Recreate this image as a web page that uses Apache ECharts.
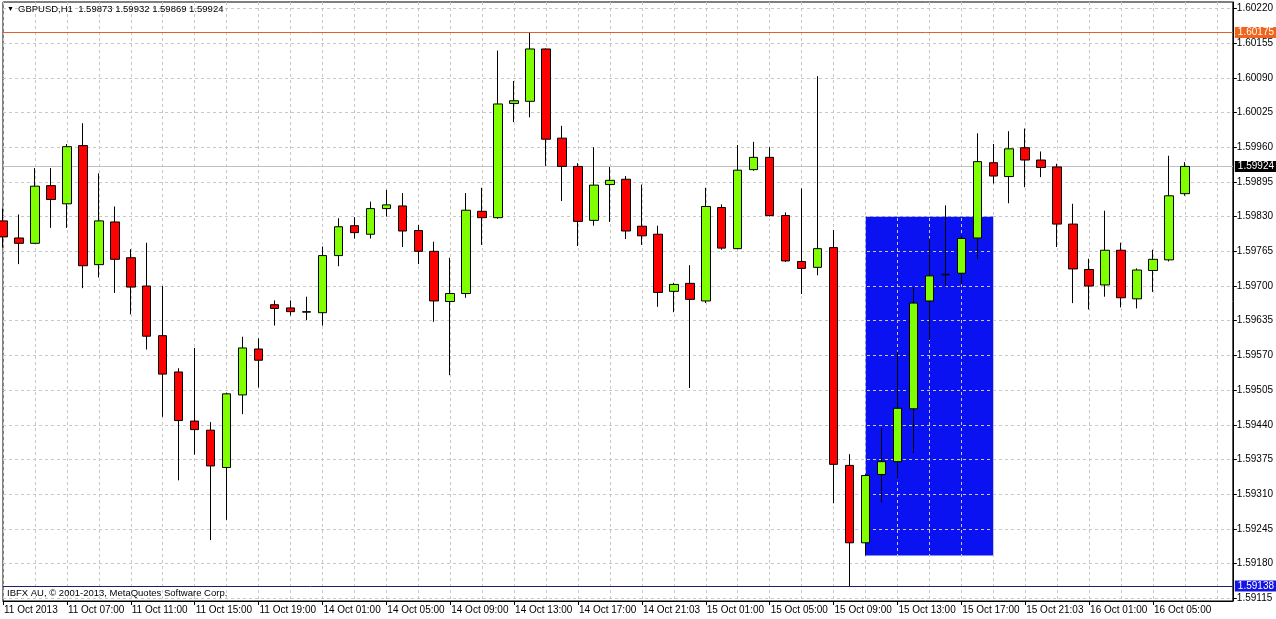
<!DOCTYPE html>
<html>
<head>
<meta charset="utf-8">
<script src="https://cdn.jsdelivr.net/npm/echarts@6/dist/echarts.min.js"></script>
<style>
html,body{margin:0;padding:0;background:#fff;}
#chart{width:1276px;height:619px;}
</style>
</head>
<body>
<div id="chart"></div>
<script>
// ---- data ----
const symbolTitle = 'GBPUSD,H1';
const categories = [
  '11 Oct 03:00','11 Oct 04:00','11 Oct 05:00','11 Oct 06:00','11 Oct 07:00','11 Oct 08:00','11 Oct 09:00','11 Oct 10:00','11 Oct 11:00','11 Oct 12:00',
  '11 Oct 13:00','11 Oct 14:00','11 Oct 15:00','11 Oct 16:00','11 Oct 17:00','11 Oct 18:00','11 Oct 19:00','11 Oct 20:00','11 Oct 21:00','11 Oct 22:00',
  '14 Oct 01:00','14 Oct 02:00','14 Oct 03:00','14 Oct 04:00','14 Oct 05:00','14 Oct 06:00','14 Oct 07:00','14 Oct 08:00','14 Oct 09:00','14 Oct 10:00',
  '14 Oct 11:00','14 Oct 12:00','14 Oct 13:00','14 Oct 14:00','14 Oct 15:00','14 Oct 16:00','14 Oct 17:00','14 Oct 18:00','14 Oct 19:00','14 Oct 20:00',
  '14 Oct 21:00','14 Oct 22:00','14 Oct 23:00',
  '15 Oct 00:00','15 Oct 01:00','15 Oct 02:00','15 Oct 03:00','15 Oct 04:00','15 Oct 05:00','15 Oct 06:00','15 Oct 07:00','15 Oct 08:00','15 Oct 09:00',
  '15 Oct 10:00','15 Oct 11:00','15 Oct 12:00','15 Oct 13:00','15 Oct 14:00','15 Oct 15:00','15 Oct 16:00','15 Oct 17:00','15 Oct 18:00','15 Oct 19:00',
  '15 Oct 20:00','15 Oct 21:00','15 Oct 22:00','15 Oct 23:00',
  '16 Oct 00:00','16 Oct 01:00','16 Oct 02:00','16 Oct 03:00','16 Oct 04:00','16 Oct 05:00','16 Oct 06:00','16 Oct 07:00',
  '16 Oct 08:00','16 Oct 09:00','16 Oct 10:00'
];
const xTickLabels = ['11 Oct 2013','11 Oct 07:00','11 Oct 11:00','11 Oct 15:00','11 Oct 19:00','14 Oct 01:00','14 Oct 05:00','14 Oct 09:00','14 Oct 13:00','14 Oct 17:00','14 Oct 21:03','15 Oct 01:00','15 Oct 05:00','15 Oct 09:00','15 Oct 13:00','15 Oct 17:00','15 Oct 21:03','16 Oct 01:00','16 Oct 05:00'];
const yTicks = [1.59115,1.59180,1.59245,1.59310,1.59375,1.59440,1.59505,1.59570,1.59635,1.59700,1.59765,1.59830,1.59895,1.59960,1.60025,1.60090,1.60155,1.60220];

const opens  = [1.59822,1.59790,1.59780,1.59888,1.59854,1.59963,1.59740,1.59820,1.59753,1.59700,
                1.59607,1.59539,1.59447,1.59430,1.59360,1.59496,1.59582,1.59665,1.59659,1.59651,
                1.59650,1.59757,1.59813,1.59797,1.59845,1.59850,1.59804,1.59765,1.59671,1.59686,
                1.59840,1.59828,1.60042,1.60046,1.60144,1.59977,1.59924,1.59823,1.59890,1.59900,
                1.59812,1.59797,1.59690,1.59705,1.59672,1.59847,1.59770,1.59918,1.59941,1.59832,
                1.59746,1.59735,1.59772,1.59364,1.59219,1.59347,1.59371,1.59470,1.59672,1.59721,
                1.59724,1.59790,1.59931,1.59905,1.59959,1.59936,1.59923,1.59816,1.59731,1.59702,
                1.59767,1.59676,1.59729,1.59749,1.59873];
const highs  = [1.59845,1.59834,1.59921,1.59921,1.59966,1.60005,1.59911,1.59849,1.59769,1.59781,
                1.59700,1.59546,1.59584,1.59445,1.59500,1.59605,1.59602,1.59673,1.59673,1.59680,
                1.59774,1.59827,1.59829,1.59858,1.59880,1.59874,1.59814,1.59783,1.59753,1.59874,
                1.59884,1.60141,1.60084,1.60174,1.60145,1.60000,1.59930,1.59960,1.59923,1.59906,
                1.59890,1.59813,1.59706,1.59739,1.59884,1.59853,1.59964,1.59970,1.59960,1.59838,
                1.59883,1.60093,1.59805,1.59385,1.59348,1.59434,1.59577,1.59697,1.59789,1.59851,
                1.59795,1.59986,1.59966,1.59990,1.59995,1.59952,1.59929,1.59854,1.59751,1.59841,
                1.59781,1.59733,1.59768,1.59944,1.59932];
const lows   = [1.59772,1.59741,1.59779,1.59809,1.59809,1.59696,1.59716,1.59687,1.59647,1.59581,
                1.59455,1.59336,1.59384,1.59224,1.59262,1.59460,1.59510,1.59626,1.59645,1.59636,
                1.59626,1.59737,1.59789,1.59789,1.59830,1.59773,1.59741,1.59633,1.59533,1.59678,
                1.59777,1.59826,1.60007,1.60016,1.59925,1.59859,1.59775,1.59813,1.59820,1.59788,
                1.59777,1.59661,1.59651,1.59509,1.59668,1.59768,1.59769,1.59916,1.59830,1.59745,
                1.59685,1.59720,1.59293,1.59138,1.59195,1.59295,1.59339,1.59387,1.59599,1.59699,
                1.59703,1.59751,1.59892,1.59855,1.59885,1.59904,1.59773,1.59668,1.59656,1.59680,
                1.59660,1.59658,1.59689,1.59746,1.59869];
const closes = [1.59792,1.59780,1.59887,1.59862,1.59961,1.59738,1.59822,1.59750,1.59698,1.59606,
                1.59535,1.59448,1.59431,1.59363,1.59498,1.59584,1.59561,1.59658,1.59652,1.59652,
                1.59757,1.59811,1.59800,1.59845,1.59852,1.59803,1.59765,1.59672,1.59686,1.59842,
                1.59828,1.60041,1.60047,1.60144,1.59975,1.59924,1.59821,1.59889,1.59898,1.59803,
                1.59794,1.59688,1.59703,1.59675,1.59849,1.59771,1.59917,1.59941,1.59832,1.59747,
                1.59733,1.59770,1.59366,1.59219,1.59345,1.59371,1.59471,1.59668,1.59719,1.59722,
                1.59789,1.59933,1.59906,1.59957,1.59936,1.59922,1.59816,1.59732,1.59700,1.59767,
                1.59678,1.59730,1.59750,1.59869,1.59924];

const alertLevel = 1.60175;
const lowLevel = 1.59138;
const zoneStart = '15 Oct 11:00', zoneEnd = '15 Oct 19:00';
const zoneTop = 1.59830, zoneBottom = 1.59195;
const copyright = 'IBFX AU, \u00a9 2001-2013, MetaQuotes Software Corp.';

// ---- chart ----
const FONT = '"Liberation Sans", Arial, sans-serif';
const candles = opens.map((o, i) => [o, closes[i], lows[i], highs[i]]);
const last = opens.length - 1;
const bid = closes[last];
const titleText = symbolTitle + '  ' + [opens[last], highs[last], lows[last], closes[last]].map(v => v.toFixed(5)).join(' ');
const showIdx = (idx) => idx % 4 === 0 && idx / 4 < xTickLabels.length;
const levelLabel = (bg) => ({
  show: true, position: 'end', distance: 2, fontSize: 10, fontFamily: FONT, color: '#fff',
  backgroundColor: bg, padding: [1, 3, 0, 3], formatter: p => Number(p.value).toFixed(5)
});

const chart = echarts.init(document.getElementById('chart'), null, {renderer: 'canvas'});
chart.setOption({
  animation: false,
  backgroundColor: '#ffffff',
  textStyle: {fontFamily: FONT},
  grid: {left: 3, right: 43, top: 2, bottom: 18, show: true, borderColor: '#000', borderWidth: 1, backgroundColor: '#fff'},
  xAxis: {
    type: 'category',
    data: categories,
    boundaryGap: false,
    z: 1.5,
    axisLine: {show: true, lineStyle: {color: '#000', width: 1}},
    axisTick: {show: true, interval: showIdx, length: 4, lineStyle: {color: '#000'}},
    axisLabel: {
      interval: showIdx, align: 'left', margin: 4, fontSize: 10, color: '#000', fontFamily: FONT,
      padding: [0, 0, 0, 1],
      formatter: (v, idx) => showIdx(idx) ? xTickLabels[idx / 4] : ''
    },
    splitLine: {show: true, interval: 1, lineStyle: {color: '#c8c8c8', type: [3, 3], width: 1}}
  },
  yAxis: {
    type: 'value',
    position: 'right',
    min: 1.59110,
    max: 1.60232,
    z: 1.5,
    axisLine: {show: true, lineStyle: {color: '#000', width: 1}},
    axisTick: {show: true, length: 4, customValues: yTicks, lineStyle: {color: '#000'}},
    axisLabel: {customValues: yTicks, margin: 4, fontSize: 10, color: '#000', fontFamily: FONT, formatter: v => v.toFixed(5)},
    splitLine: {show: true, lineStyle: {color: '#c8c8c8', type: [3, 3], width: 1}}
  },
  series: [
    {
      type: 'line',
      name: 'objects',
      data: [],
      z: 1,
      silent: true,
      markArea: {
        silent: true,
        z: 1,
        itemStyle: {color: '#0a12f2', opacity: 1},
        data: [[{xAxis: zoneStart, yAxis: zoneTop}, {xAxis: zoneEnd, yAxis: zoneBottom}]]
      },
      markLine: {
        silent: true,
        z: 1.8,
        symbol: ['none', 'none'],
        animation: false,
        precision: 5,
        data: [
          {yAxis: alertLevel, lineStyle: {color: '#e0622a', type: 'solid', width: 1}, label: levelLabel('#f0641e')},
          {yAxis: bid, lineStyle: {color: '#c0c0c0', type: 'solid', width: 1}, label: levelLabel('#000000')},
          {yAxis: lowLevel, lineStyle: {color: '#1e1e6e', type: 'solid', width: 1}, label: levelLabel('#1414e6')}
        ]
      }
    },
    {
      type: 'candlestick',
      data: candles,
      barWidth: 9,
      z: 2,
      itemStyle: {color: '#80ff00', color0: '#ff0000', borderColor: '#000', borderColor0: '#000', borderWidth: 1}
    }
  ],
  graphic: [
    {type: 'text', left: 7, top: 6, z: 100, style: {text: '\u25bc', fontSize: 7, fill: '#000', fontFamily: FONT}},
    {type: 'text', left: 18, top: 4, z: 100, style: {text: titleText, fontSize: 9.5, fill: '#000', fontFamily: FONT}},
    {type: 'text', left: 7, top: 588, z: 100, style: {text: copyright, fontSize: 9.5, fill: '#000', fontFamily: FONT}}
  ]
});
</script>
</body>
</html>
